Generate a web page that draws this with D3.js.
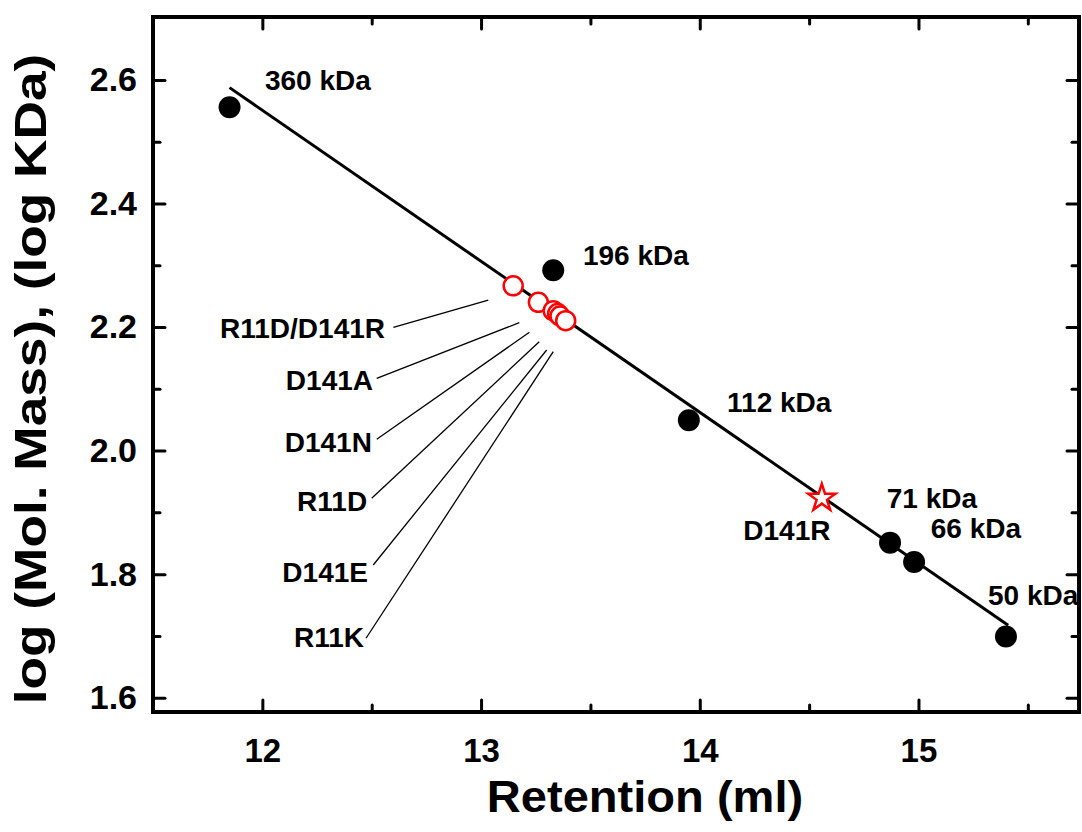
<!DOCTYPE html>
<html>
<head>
<meta charset="utf-8">
<script src="https://cdn.jsdelivr.net/npm/d3@7"></script>
<style>
    html, body { margin: 0; padding: 0; background: #fff; }
    text { font-family: "Liberation Sans", Arial, sans-serif; font-weight: bold; }
</style>
</head>
<body>
<div id="chart"></div>
<script>
// standards (black dots)
const standardNames = ['360 kDa', '196 kDa', '112 kDa', '71 kDa', '66 kDa', '50 kDa'];
const standardRetention = [11.85, 13.33, 13.95, 14.87, 14.98, 15.40];
const standardLogMass = [2.556, 2.292, 2.049, 1.851, 1.8195, 1.699];
// label anchor (data units) for each standard
const standardLabelX = [12.012, 13.466, 14.125, 14.855, 15.056, 15.318];
const standardLabelY = [2.584, 2.300, 2.0625, 1.907, 1.8585, 1.750];

// mutants (red open circles)
const mutantNames = ['R11D/D141R', 'D141A', 'D141N', 'R11D', 'D141E', 'R11K'];
const mutantRetention = [13.147, 13.262, 13.330, 13.350, 13.361, 13.387];
const mutantLogMass = [2.2667, 2.2401, 2.2265, 2.222, 2.2179, 2.2103];
// label anchors and leader lines (data units)
const mutantLabelX = [12.561, 12.506, 12.501, 12.479, 12.483, 12.465];
const mutantLabelY = [2.1823, 2.0981, 1.9978, 1.9022, 1.7873, 1.6820];
const leaderFromX = [12.599, 12.523, 12.523, 12.500, 12.507, 12.474];
const leaderFromY = [2.1996, 2.1171, 2.0183, 1.9228, 1.8148, 1.6962];
const leaderToX = [13.033, 13.175, 13.221, 13.266, 13.300, 13.330];
const leaderToY = [2.2438, 2.2071, 2.1916, 2.1763, 2.1629, 2.1601];

// D141R (red star)
const starName = 'D141R';
const starRetention = 14.558;
const starLogMass = 1.923;
const starLabelX = 14.199;
const starLabelY = 1.855;

// linear fit
const fitRange = [11.85, 15.41];
const fitSlope = -0.2445;
const fitIntercept = 5.485;

const xTicks = [12, 13, 14, 15];
const xMinorTicks = [12.5, 13.5, 14.5, 15.5];
const yTicks = [1.6, 1.8, 2.0, 2.2, 2.4, 2.6];
const yMinorTicks = [1.7, 1.9, 2.1, 2.3, 2.5];

const width = 1082, height = 832;
const margin = { top: 17, right: 3, bottom: 120, left: 153 };
const innerW = width - margin.left - margin.right;
const innerH = height - margin.top - margin.bottom;

const svg = d3.select('#chart')
    .append('svg')
    .attr('width', width)
    .attr('height', height);

const g = svg.append('g')
    .attr('transform', `translate(${margin.left},${margin.top})`);

const x = d3.scaleLinear().domain([11.5, 15.734]).range([0, innerW]);
const y = d3.scaleLinear().domain([1.5768, 2.702]).range([innerH, 0]);

// ticks on all four sides, pointing inward
function styleAxis(sel) {
    sel.select('.domain').remove();
    sel.selectAll('.tick line').attr('stroke', '#000').attr('stroke-width', 3).attr('stroke-linecap', 'round');
}
const majorLen = 12, minorLen = 7;

g.append('g').attr('transform', `translate(0,${innerH})`)
    .call(d3.axisBottom(x).tickValues(xTicks).tickSizeInner(-majorLen).tickSizeOuter(0).tickPadding(27).tickFormat(d3.format('d')))
    .call(styleAxis)
    .selectAll('text').attr('font-size', 33).attr('fill', '#000');
g.append('g').attr('transform', `translate(0,${innerH})`)
    .call(d3.axisBottom(x).tickValues(xMinorTicks).tickSizeInner(-minorLen).tickSizeOuter(0).tickFormat(''))
    .call(styleAxis);
g.append('g')
    .call(d3.axisTop(x).tickValues(xTicks).tickSizeInner(-majorLen).tickSizeOuter(0).tickFormat(''))
    .call(styleAxis);
g.append('g')
    .call(d3.axisTop(x).tickValues(xMinorTicks).tickSizeInner(-minorLen).tickSizeOuter(0).tickFormat(''))
    .call(styleAxis);

g.append('g')
    .call(d3.axisLeft(y).tickValues(yTicks).tickSizeInner(-majorLen).tickSizeOuter(0).tickPadding(16).tickFormat(d3.format('.1f')))
    .call(styleAxis)
    .selectAll('text').attr('font-size', 34).attr('fill', '#000');
g.append('g')
    .call(d3.axisLeft(y).tickValues(yMinorTicks).tickSizeInner(-minorLen).tickSizeOuter(0).tickFormat(''))
    .call(styleAxis);
g.append('g').attr('transform', `translate(${innerW},0)`)
    .call(d3.axisRight(y).tickValues(yTicks).tickSizeInner(-majorLen).tickSizeOuter(0).tickFormat(''))
    .call(styleAxis);
g.append('g').attr('transform', `translate(${innerW},0)`)
    .call(d3.axisRight(y).tickValues(yMinorTicks).tickSizeInner(-minorLen).tickSizeOuter(0).tickFormat(''))
    .call(styleAxis);

// frame
g.append('rect')
    .attr('width', innerW)
    .attr('height', innerH)
    .attr('fill', 'none')
    .attr('stroke', '#000')
    .attr('stroke-width', 4);

// axis titles (stretched along their length like the source figure)
svg.append('text')
    .attr('transform', 'translate(645, 812) scale(1.07, 1)')
    .attr('text-anchor', 'middle')
    .attr('font-size', 44)
    .text('Retention (ml)');

svg.append('text')
    .attr('transform', 'translate(46, 379) rotate(-90) scale(1.21, 1)')
    .attr('text-anchor', 'middle')
    .attr('font-size', 44)
    .text('log (Mol. Mass), (log KDa)');

// fit line
g.append('line')
    .attr('x1', x(fitRange[0]))
    .attr('y1', y(fitIntercept + fitSlope * fitRange[0]))
    .attr('x2', x(fitRange[1]))
    .attr('y2', y(fitIntercept + fitSlope * fitRange[1]))
    .attr('stroke', '#000')
    .attr('stroke-width', 3);

// leader lines
g.selectAll('.leader')
    .data(mutantNames)
    .enter().append('line')
    .attr('class', 'leader')
    .attr('x1', (d, i) => x(leaderFromX[i]))
    .attr('y1', (d, i) => y(leaderFromY[i]))
    .attr('x2', (d, i) => x(leaderToX[i]))
    .attr('y2', (d, i) => y(leaderToY[i]))
    .attr('stroke', '#000')
    .attr('stroke-width', 1.3);

// standards
g.selectAll('.std')
    .data(standardNames)
    .enter().append('circle')
    .attr('class', 'std')
    .attr('cx', (d, i) => x(standardRetention[i]))
    .attr('cy', (d, i) => y(standardLogMass[i]))
    .attr('r', 11)
    .attr('fill', '#000');

g.selectAll('.std-label')
    .data(standardNames)
    .enter().append('text')
    .attr('class', 'std-label')
    .attr('x', (d, i) => x(standardLabelX[i]))
    .attr('y', (d, i) => y(standardLabelY[i]))
    .attr('font-size', 28)
    .text(d => d);

// mutants
g.selectAll('.mut')
    .data(mutantNames)
    .enter().append('circle')
    .attr('class', 'mut')
    .attr('cx', (d, i) => x(mutantRetention[i]))
    .attr('cy', (d, i) => y(mutantLogMass[i]))
    .attr('r', 9.5)
    .attr('fill', '#fff')
    .attr('stroke', '#ff0000')
    .attr('stroke-width', 2.5);

g.selectAll('.mut-label')
    .data(mutantNames)
    .enter().append('text')
    .attr('class', 'mut-label')
    .attr('x', (d, i) => x(mutantLabelX[i]))
    .attr('y', (d, i) => y(mutantLabelY[i]))
    .attr('text-anchor', 'end')
    .attr('font-size', 28)
    .text(d => d);

// star
g.append('path')
    .attr('d', d3.symbol().type(d3.symbolStar).size(230)())
    .attr('transform', `translate(${x(starRetention)},${y(starLogMass)})`)
    .attr('fill', '#fff')
    .attr('stroke', '#ff0000')
    .attr('stroke-width', 2.5);

g.append('text')
    .attr('x', x(starLabelX))
    .attr('y', y(starLabelY))
    .attr('font-size', 28)
    .text(starName);
</script>
</body>
</html>
